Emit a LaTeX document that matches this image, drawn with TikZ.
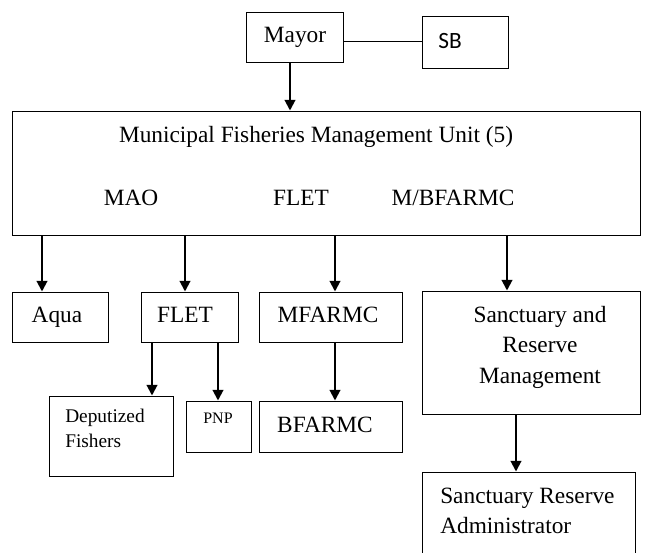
\documentclass[tikz,border=0pt]{standalone}
\usepackage{fontspec}
\setmainfont{Liberation Serif}
\newfontfamily\sbfont{Carlito}
\usetikzlibrary{arrows.meta}
\newcommand\boxnode[5]{\node[bx, minimum width={(#4-#2)*0.75pt}, minimum height={(#5-#3)*0.75pt}] (#1) at ({(#2+#4)/2},{(#3+#5)/2}) {};}
\begin{document}
\begin{tikzpicture}[x=0.75pt,y=-0.75pt,
  bx/.style={draw,line width=0.75pt,inner sep=0pt},
  arr/.style={line width=1.5pt,-{Triangle[width=8pt,length=8pt]}},
  link/.style={line width=0.75pt},
  txt/.style={font=\fontsize{17.5}{20}\selectfont, inner sep=0pt, anchor=base},
  txtl/.style={txt, anchor=base west},
  small/.style={font=\fontsize{14.5}{18}\selectfont, inner sep=0pt, anchor=base west},
  tiny/.style={font=\fontsize{12}{14}\selectfont, inner sep=0pt, anchor=base}]
\useasboundingbox (0,0) rectangle (653,553);

\boxnode{mayor}{246}{12}{343}{62}
\boxnode{sb}{422}{16}{508}{68}
\boxnode{mfmu}{12}{111}{640}{235}
\boxnode{aqua}{12}{292}{108}{342}
\boxnode{flet}{141}{292}{238}{342}
\boxnode{mfarmc}{259}{292}{402}{342}
\boxnode{srm}{422}{291}{640}{414}
\boxnode{dep}{49}{396}{173}{476}
\boxnode{pnp}{186}{401}{251}{452}
\boxnode{bfarmc}{259}{401}{402}{452}
\boxnode{sra}{422}{472}{635}{562}

\node[txt] (tmayor) at (295,42) {Mayor};
\node[txt, font=\sbfont\fontsize{17.5}{20}\selectfont] (tsb) at (450,48) {SB};
\node[txt] (tmfmu) at (316,142) {Municipal Fisheries Management Unit (5)};
\node[txt] (tmao) at (131,205) {MAO};
\node[txt] (tflet0) at (301,205) {FLET};
\node[txt] (tmb) at (453,205) {M/BFARMC};
\node[txt] (taqua) at (57,322) {Aqua};
\node[txt] (tflet) at (185,322) {FLET};
\node[txt] (tmfarmc) at (328,322) {MFARMC};
\node[txt] (tsrm1) at (540,322) {Sanctuary and};
\node[txt] (tsrm2) at (540,352) {Reserve};
\node[txt] (tsrm3) at (540,383) {Management};
\node[small] (tdep1) at (65,422) {Deputized};
\node[small] (tdep2) at (65,447) {Fishers};
\node[tiny] (tpnp) at (218,423) {PNP};
\node[txt] (tbf) at (325,432) {BFARMC};
\node[txtl] (tsra1) at (440,503) {Sanctuary Reserve};
\node[txtl] (tsra2) at (440,533) {Administrator};

\draw[link] (mayor.east |- 0,41) -- (sb.west |- 0,41);
\draw[arr] (mayor.south -| 290,0) -- (mfmu.north -| 290,0);
\draw[arr] (mfmu.south -| 42,0) -- (aqua.north -| 42,0);
\draw[arr] (mfmu.south -| 185,0) -- (flet.north -| 185,0);
\draw[arr] (mfmu.south -| 335,0) -- (mfarmc.north -| 335,0);
\draw[arr] (mfmu.south -| 507,0) -- (srm.north -| 507,0);
\draw[arr] (flet.south -| 152,0) -- (dep.north -| 152,0);
\draw[arr] (flet.south -| 218,0) -- (pnp.north -| 218,0);
\draw[arr] (mfarmc.south -| 335,0) -- (bfarmc.north -| 335,0);
\draw[arr] (srm.south -| 516,0) -- (sra.north -| 516,0);
\end{tikzpicture}
\end{document}
